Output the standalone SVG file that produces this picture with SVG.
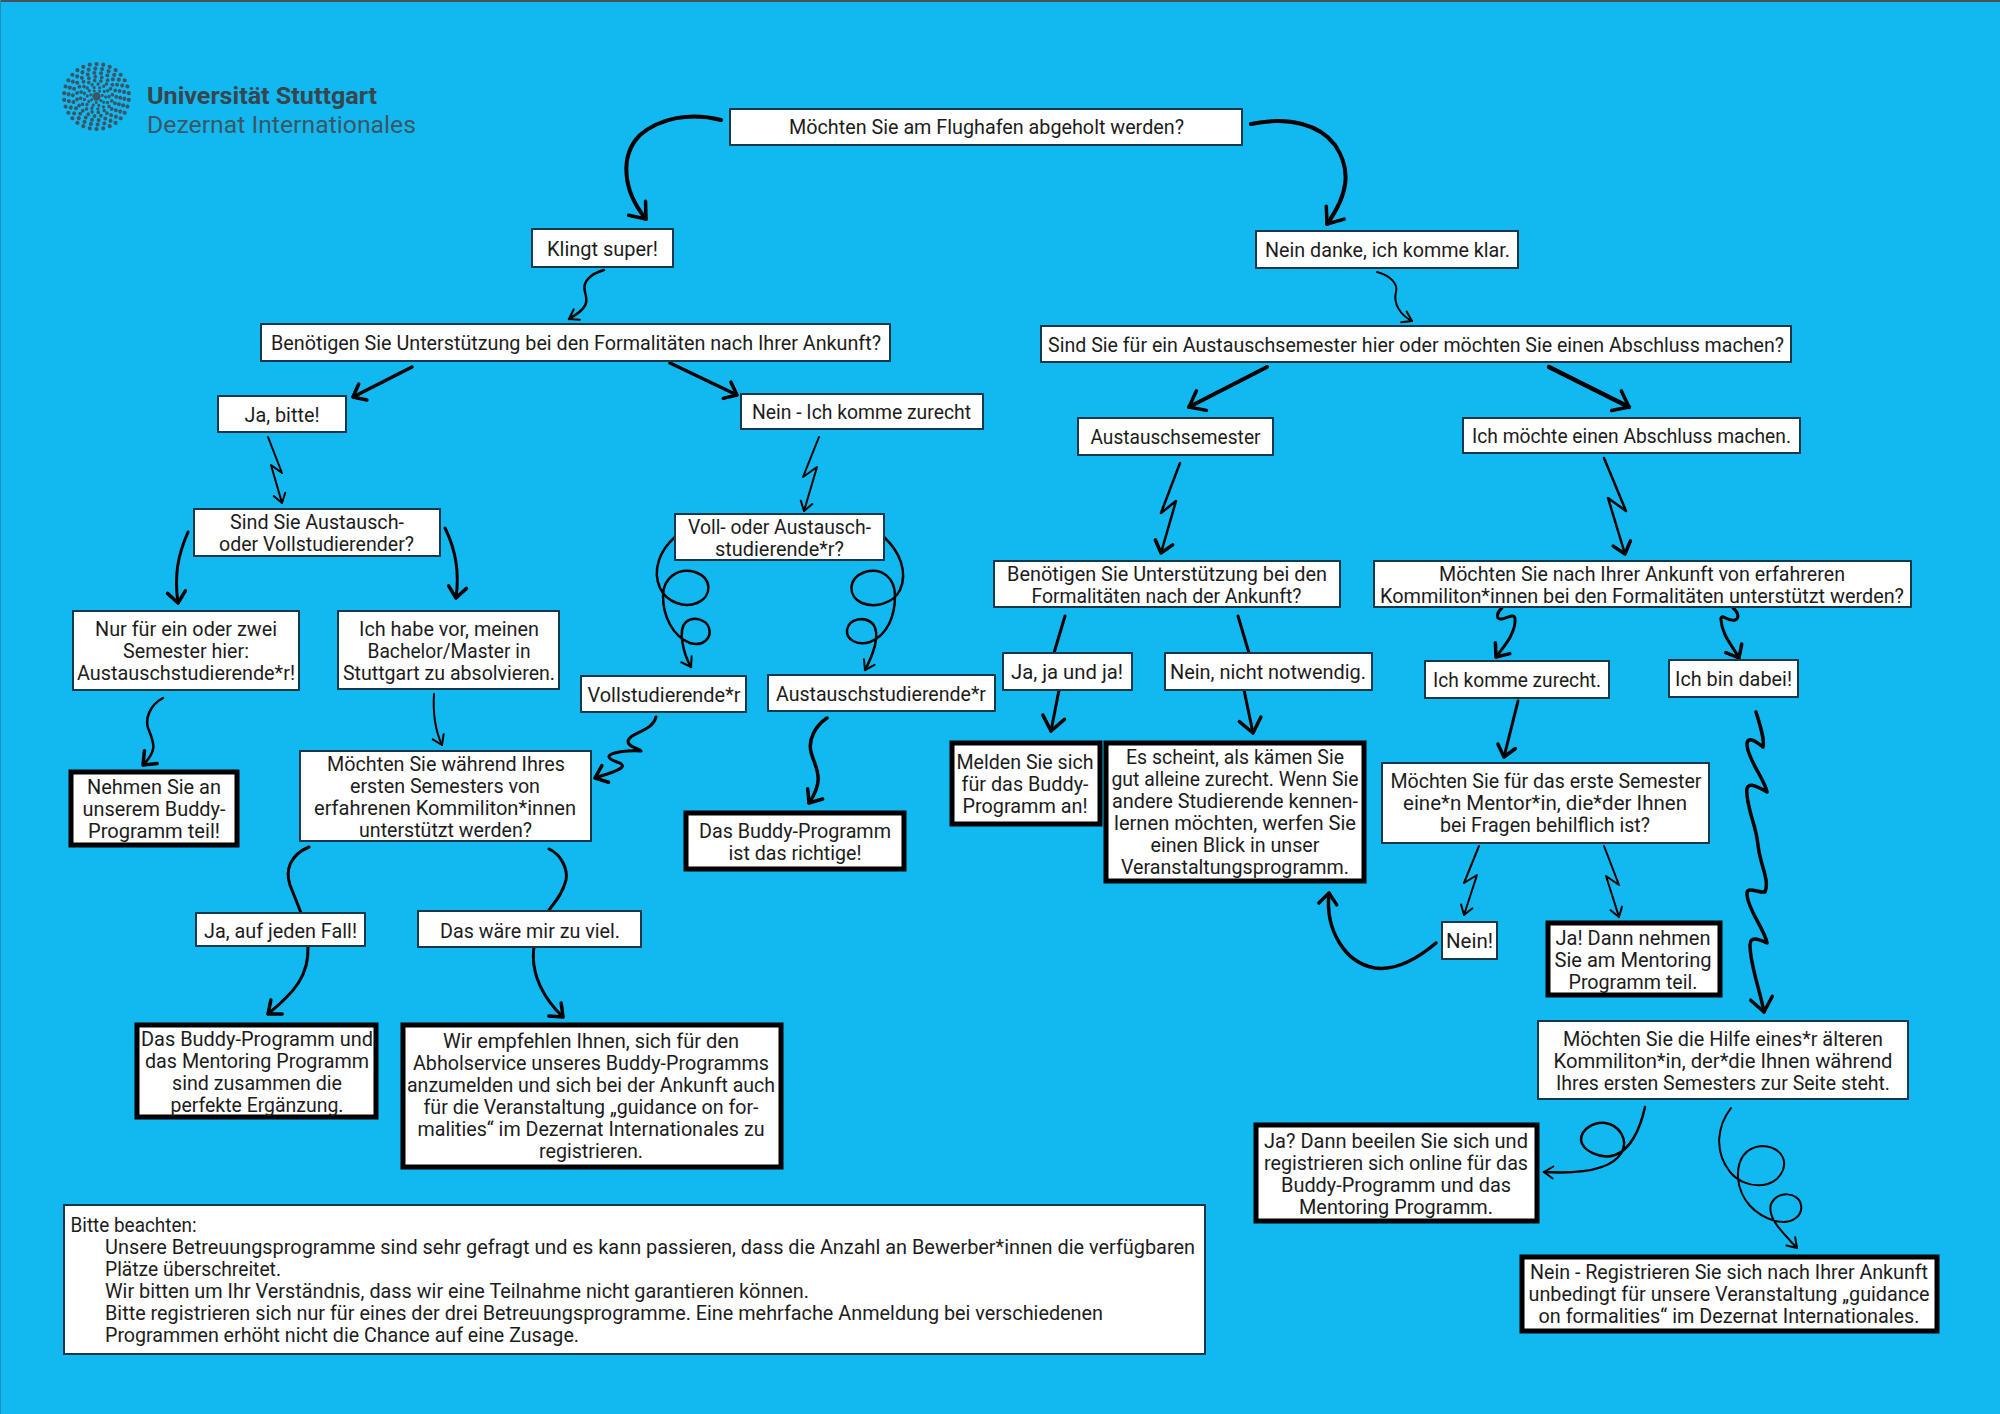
<svg xmlns="http://www.w3.org/2000/svg" width="2000" height="1414" viewBox="0 0 2000 1414">
<style>
text{font-family:Roboto,"Liberation Sans",sans-serif;font-size:21px;fill:#1c1c1c}
.b text,.k text{transform:translateY(1px)}
.c{text-anchor:middle}
.b rect{fill:#fff;stroke:#17384a;stroke-width:2}
.k rect{fill:#fff;stroke:#000;stroke-width:5}
.l{fill:none;stroke:#000;stroke-linecap:round;stroke-linejoin:round}
.w2{stroke-width:2}.w25{stroke-width:2.5}.w3{stroke-width:3}.w35{stroke-width:3.5}.w4{stroke-width:4}.w45{stroke-width:4.5}
.s{marker-end:url(#as)}.m{marker-end:url(#am)}.h{marker-end:url(#al)}
.ring{fill:none;stroke:#3c5666;stroke-linecap:round}
</style>
<defs>
<marker id="as" markerUnits="userSpaceOnUse" markerWidth="30" markerHeight="30" refX="15" refY="15" orient="auto" viewBox="0 0 30 30"><path d="M6,9 L15,15 L6,21" fill="none" stroke="#000" stroke-width="2" stroke-linecap="round" stroke-linejoin="round"/></marker>
<marker id="am" markerUnits="userSpaceOnUse" markerWidth="40" markerHeight="40" refX="20" refY="20" orient="auto" viewBox="0 0 40 40"><path d="M9,11 L20,20 L9,29" fill="none" stroke="#000" stroke-width="3.5" stroke-linecap="round" stroke-linejoin="round"/></marker>
<marker id="al" markerUnits="userSpaceOnUse" markerWidth="50" markerHeight="50" refX="25" refY="25" orient="auto" viewBox="0 0 50 50"><path d="M11,14 L25,25 L11,36" fill="none" stroke="#000" stroke-width="3.5" stroke-linecap="round" stroke-linejoin="round"/></marker>
</defs>
<rect width="2000" height="1414" fill="#12b9f0"/>
<path d="M0,1H2000" stroke="#44525c" stroke-width="2"/>
<path d="M0.5,0V1414" stroke="#1a8fb8" stroke-width="1"/>

<g id="logo">
<g transform="translate(96.5,96.5)">
<circle class="ring" r="32.5" pathLength="30" stroke-dasharray="0 1" stroke-width="4.2" transform="rotate(6)"/>
<circle class="ring" r="28" pathLength="26" stroke-dasharray="0 1" stroke-width="4.1" transform="rotate(143)"/>
<circle class="ring" r="23.7" pathLength="22" stroke-dasharray="0 1" stroke-width="4" transform="rotate(281)"/>
<circle class="ring" r="19.7" pathLength="19" stroke-dasharray="0 1" stroke-width="3.8" transform="rotate(58)"/>
<circle class="ring" r="16" pathLength="16" stroke-dasharray="0 1" stroke-width="3.6" transform="rotate(196)"/>
<circle class="ring" r="12.5" pathLength="13" stroke-dasharray="0 1" stroke-width="3.4" transform="rotate(333)"/>
<circle class="ring" r="9.2" pathLength="10" stroke-dasharray="0 1" stroke-width="3.2" transform="rotate(111)"/>
<circle class="ring" r="6" pathLength="7" stroke-dasharray="0 1" stroke-width="3" transform="rotate(248)"/>
<circle r="4.2" fill="#3c5666"/>
</g>
<text x="147" y="104" textLength="230" lengthAdjust="spacingAndGlyphs" style="font-size:24px;font-weight:700;fill:#37454f">Universität Stuttgart</text>
<text x="147" y="133" textLength="269" lengthAdjust="spacingAndGlyphs" style="font-size:24px;fill:#3c5666">Dezernat Internationales</text>
</g>

<g id="connectors">
<path class="l w4 h" d="M721,120 C690,112 660,118 640,135 C620,155 622,190 646,219"/>
<path class="l w4 h" d="M1251,124 C1290,116 1320,125 1335,145 C1352,170 1348,195 1327,224"/>
<path class="l w25 s" d="M604,270 C590,274 582,282 585,292 C588,302 588,308 569,319"/>
<path class="l w2 s" d="M1377,272 C1392,276 1398,285 1396,292 C1393,303 1400,315 1412,321"/>
<path class="l w35 m" d="M412,367 L353,397"/>
<path class="l w35 m" d="M670,363 L737,395"/>
<path class="l w4 h" d="M1267,367 L1189,407"/>
<path class="l w45 h" d="M1549,367 L1629,407"/>
<path class="l w2 s" d="M268,437 L282,473 L271,465 L282,503"/>
<path class="l w2 s" d="M819,437 L803,477 L817,467 L804,511"/>
<path class="l w25 m" d="M1180,463 L1161,513 L1176,501 L1161,553"/>
<path class="l w25 m" d="M1604,458 L1626,511 L1608,498 L1625,554"/>
<path class="l w3 m" d="M188,532 C178,555 174,575 178,603"/>
<path class="l w3 m" d="M445,528 C455,548 460,570 456,598"/>
<path class="l w25 m" d="M163,698 C150,705 145,718 148,728 C154,743 158,750 143,765"/>
<path class="l w2 s" d="M434,694 C433,710 435,730 442,745"/>
<path class="l w3 m" d="M656,717 C652,732 630,732 628,741 C628,748 640,748 641,751 C630,750 608,752 609,757 C610,762 625,762 622,767 C618,772 605,774 595,778"/>
<path class="l w3" d="M309,847 C290,855 285,870 290,885 C294,895 298,905 301,913"/>
<path class="l w3" d="M549,849 C562,855 568,870 566,880 C563,893 555,902 549,910"/>
<path class="l w3 m" d="M308,947 C309,975 295,992 268,1014"/>
<path class="l w3 m" d="M534,947 C530,975 545,1000 563,1017"/>
<path class="l w25 s" d="M675,537 C660,550 652,570 660,588 C667,603 685,608 697,603 C713,596 712,578 695,572 C678,567 663,578 663,596 C663,615 672,636 690,643 C703,647 712,638 709,628 C706,619 693,616 686,622 C677,630 684,655 691,667"/>
<path class="l w25 s" d="M884,537 C900,552 908,572 900,590 C893,604 875,608 862,603 C847,596 848,578 865,572 C882,567 895,578 895,596 C895,615 888,635 870,642 C858,646 846,640 847,630 C849,618 865,616 873,624 C881,634 873,655 865,670"/>
<path class="l w35 m" d="M827,718 C815,726 808,740 811,752 C815,768 826,778 809,803"/>
<path class="l w3" d="M1065,616 L1054,653"/>
<path class="l w3" d="M1238,616 L1249,653"/>
<path class="l w3 h" d="M1059,690 L1051,731"/>
<path class="l w3 h" d="M1244,690 L1253,733"/>
<path class="l w35 m" d="M1436,943 C1410,965 1390,970 1375,968 C1345,963 1325,930 1329,893"/>
<path class="l w3 m" d="M1502,608 C1497,612 1495,620 1502,619 C1510,617 1516,612 1515,622 C1514,635 1505,645 1496,657"/>
<path class="l w3 m" d="M1733,608 C1738,612 1740,618 1735,620 C1728,622 1720,612 1721,620 C1722,635 1732,645 1739,658"/>
<path class="l w3 m" d="M1518,701 L1504,757"/>
<path class="l w2 s" d="M1479,846 L1464,883 L1477,875 L1464,915"/>
<path class="l w2 s" d="M1604,846 L1619,885 L1606,876 L1619,917"/>
<path class="l w35 h" d="M1756,712 C1760,725 1765,740 1763,747 C1760,745 1747,733 1747,745 C1748,760 1765,780 1767,792 C1755,785 1745,780 1747,795 C1749,815 1756,825 1758,845 C1760,865 1770,880 1765,892 C1758,893 1746,885 1747,895 C1748,910 1765,930 1767,943 C1760,940 1750,935 1750,945 C1750,965 1760,990 1764,1012"/>
<path class="l w25 s" d="M1645,1107 C1640,1130 1630,1150 1615,1155 C1600,1160 1582,1150 1581,1140 C1581,1128 1595,1122 1605,1123 C1620,1125 1628,1140 1622,1152 C1612,1170 1580,1174 1544,1172"/>
<path class="l w2 s" d="M1731,1108 C1718,1125 1713,1150 1730,1172 C1745,1190 1775,1190 1783,1170 C1788,1155 1775,1146 1762,1146 C1745,1147 1737,1160 1738,1178 C1740,1200 1755,1215 1775,1221 C1793,1225 1803,1215 1801,1205 C1799,1192 1777,1190 1771,1204 C1767,1218 1782,1232 1797,1248"/>
</g>

<g id="n01" class="b"><rect x="730" y="109" width="512" height="36"/><text class="c" x="986.5" y="133" textLength="395" lengthAdjust="spacingAndGlyphs">Möchten Sie am Flughafen abgeholt werden?</text></g>
<g id="n02" class="b"><rect x="532" y="229" width="141" height="38"/><text class="c" x="602.5" y="255" textLength="111" lengthAdjust="spacingAndGlyphs">Klingt super!</text></g>
<g id="n03" class="b"><rect x="1256" y="231" width="262" height="37"/><text class="c" x="1387.5" y="256" textLength="245" lengthAdjust="spacingAndGlyphs">Nein danke, ich komme klar.</text></g>
<g id="n04" class="b"><rect x="261" y="324" width="629" height="37"/><text class="c" x="576" y="349" textLength="610" lengthAdjust="spacingAndGlyphs">Benötigen Sie Unterstützung bei den Formalitäten nach Ihrer Ankunft?</text></g>
<g id="n05" class="b"><rect x="1041" y="326" width="750" height="36"/><text class="c" x="1416" y="351" textLength="736" lengthAdjust="spacingAndGlyphs">Sind Sie für ein Austauschsemester hier oder möchten Sie einen Abschluss machen?</text></g>
<g id="n06" class="b"><rect x="218" y="396" width="128" height="36"/><text class="c" x="282" y="421" textLength="75" lengthAdjust="spacingAndGlyphs">Ja, bitte!</text></g>
<g id="n07" class="b"><rect x="741" y="394" width="242" height="35"/><text class="c" x="861.5" y="418" textLength="219" lengthAdjust="spacingAndGlyphs">Nein - Ich komme zurecht</text></g>
<g id="n08" class="b"><rect x="1078" y="418" width="195" height="37"/><text class="c" x="1175.5" y="443" textLength="170" lengthAdjust="spacingAndGlyphs">Austauschsemester</text></g>
<g id="n09" class="b"><rect x="1463" y="418" width="337" height="35"/><text class="c" x="1631.5" y="442" textLength="319" lengthAdjust="spacingAndGlyphs">Ich möchte einen Abschluss machen.</text></g>
<g id="n10" class="b"><rect x="194" y="509" width="246" height="47"/><text class="c" x="317" y="528" textLength="174" lengthAdjust="spacingAndGlyphs">Sind Sie Austausch-</text><text class="c" x="316.5" y="550" textLength="195" lengthAdjust="spacingAndGlyphs">oder Vollstudierender?</text></g>
<g id="n11" class="b"><rect x="675" y="514" width="209" height="46"/><text class="c" x="779.5" y="533" textLength="183" lengthAdjust="spacingAndGlyphs">Voll- oder Austausch-</text><text class="c" x="779.5" y="555" textLength="129" lengthAdjust="spacingAndGlyphs">studierende*r?</text></g>
<g id="n12" class="b"><rect x="994" y="561" width="346" height="46"/><text class="c" x="1167" y="580" textLength="320" lengthAdjust="spacingAndGlyphs">Benötigen Sie Unterstützung bei den</text><text class="c" x="1166.5" y="602" textLength="270" lengthAdjust="spacingAndGlyphs">Formalitäten nach der Ankunft?</text></g>
<g id="n13" class="b"><rect x="1374" y="561" width="537" height="46"/><text class="c" x="1642" y="580" textLength="406" lengthAdjust="spacingAndGlyphs">Möchten Sie nach Ihrer Ankunft von erfahreren</text><text class="c" x="1642" y="602" textLength="524" lengthAdjust="spacingAndGlyphs">Kommiliton*innen bei den Formalitäten unterstützt werden?</text></g>
<g id="n14" class="b"><rect x="73" y="611" width="226" height="79"/><text class="c" x="186" y="635" textLength="182" lengthAdjust="spacingAndGlyphs">Nur für ein oder zwei</text><text class="c" x="186" y="657" textLength="126" lengthAdjust="spacingAndGlyphs">Semester hier:</text><text class="c" x="186" y="679" textLength="218" lengthAdjust="spacingAndGlyphs">Austauschstudierende*r!</text></g>
<g id="n15" class="b"><rect x="338" y="611" width="221" height="78"/><text class="c" x="449" y="635" textLength="180" lengthAdjust="spacingAndGlyphs">Ich habe vor, meinen</text><text class="c" x="449" y="657" textLength="163" lengthAdjust="spacingAndGlyphs">Bachelor/Master in</text><text class="c" x="449" y="679" textLength="212" lengthAdjust="spacingAndGlyphs">Stuttgart zu absolvieren.</text></g>
<g id="n16" class="b"><rect x="581" y="676" width="165" height="36"/><text class="c" x="664" y="701" textLength="153" lengthAdjust="spacingAndGlyphs">Vollstudierende*r</text></g>
<g id="n17" class="b"><rect x="768" y="675" width="227" height="36"/><text class="c" x="881" y="700" textLength="210" lengthAdjust="spacingAndGlyphs">Austauschstudierende*r</text></g>
<g id="n18" class="b"><rect x="1003" y="653" width="129" height="37"/><text class="c" x="1067" y="678" textLength="112" lengthAdjust="spacingAndGlyphs">Ja, ja und ja!</text></g>
<g id="n19" class="b"><rect x="1165" y="653" width="207" height="37"/><text class="c" x="1268" y="678" textLength="196" lengthAdjust="spacingAndGlyphs">Nein, nicht notwendig.</text></g>
<g id="n20" class="b"><rect x="1425" y="661" width="184" height="37"/><text class="c" x="1517" y="686" textLength="168" lengthAdjust="spacingAndGlyphs">Ich komme zurecht.</text></g>
<g id="n21" class="b"><rect x="1669" y="660" width="129" height="37"/><text class="c" x="1733.5" y="685" textLength="117" lengthAdjust="spacingAndGlyphs">Ich bin dabei!</text></g>
<g id="n22" class="b"><rect x="1382" y="763" width="327" height="80"/><text class="c" x="1546" y="787" textLength="311" lengthAdjust="spacingAndGlyphs">Möchten Sie für das erste Semester</text><text class="c" x="1545" y="809" textLength="284" lengthAdjust="spacingAndGlyphs">eine*n Mentor*in, die*der Ihnen</text><text class="c" x="1545" y="831" textLength="210" lengthAdjust="spacingAndGlyphs">bei Fragen behilflich ist?</text></g>
<g id="n23" class="b"><rect x="300" y="751" width="291" height="90"/><text class="c" x="446" y="770" textLength="238" lengthAdjust="spacingAndGlyphs">Möchten Sie während Ihres</text><text class="c" x="445" y="792" textLength="190" lengthAdjust="spacingAndGlyphs">ersten Semesters von</text><text class="c" x="445" y="814" textLength="262" lengthAdjust="spacingAndGlyphs">erfahrenen Kommiliton*innen</text><text class="c" x="445.5" y="836" textLength="173" lengthAdjust="spacingAndGlyphs">unterstützt werden?</text></g>
<g id="n24" class="k"><rect x="71" y="772" width="166" height="73"/><text class="c" x="154" y="793" textLength="134" lengthAdjust="spacingAndGlyphs">Nehmen Sie an</text><text class="c" x="154" y="815" textLength="143" lengthAdjust="spacingAndGlyphs">unserem Buddy-</text><text class="c" x="154" y="837" textLength="132" lengthAdjust="spacingAndGlyphs">Programm teil!</text></g>
<g id="n25" class="k"><rect x="686" y="813" width="218" height="56"/><text class="c" x="795" y="837" textLength="192" lengthAdjust="spacingAndGlyphs">Das Buddy-Programm</text><text class="c" x="795" y="859" textLength="133" lengthAdjust="spacingAndGlyphs">ist das richtige!</text></g>
<g id="n26" class="k"><rect x="952" y="743" width="148" height="81"/><text class="c" x="1025" y="768" textLength="137" lengthAdjust="spacingAndGlyphs">Melden Sie sich</text><text class="c" x="1025" y="790" textLength="127" lengthAdjust="spacingAndGlyphs">für das Buddy-</text><text class="c" x="1025" y="812" textLength="125" lengthAdjust="spacingAndGlyphs">Programm an!</text></g>
<g id="n27" class="k"><rect x="1106" y="743" width="258" height="138"/><text class="c" x="1235" y="763" textLength="218" lengthAdjust="spacingAndGlyphs">Es scheint, als kämen Sie</text><text class="c" x="1235" y="785" textLength="247" lengthAdjust="spacingAndGlyphs">gut alleine zurecht. Wenn Sie</text><text class="c" x="1235" y="807" textLength="246" lengthAdjust="spacingAndGlyphs">andere Studierende kennen-</text><text class="c" x="1235" y="829" textLength="242" lengthAdjust="spacingAndGlyphs">lernen möchten, werfen Sie</text><text class="c" x="1235" y="851" textLength="169" lengthAdjust="spacingAndGlyphs">einen Blick in unser</text><text class="c" x="1235" y="873" textLength="228" lengthAdjust="spacingAndGlyphs">Veranstaltungsprogramm.</text></g>
<g id="n28" class="b"><rect x="1442" y="922" width="55" height="37"/><text class="c" x="1469.5" y="947" textLength="47" lengthAdjust="spacingAndGlyphs">Nein!</text></g>
<g id="n29" class="k"><rect x="1548" y="923" width="172" height="72"/><text class="c" x="1633" y="944" textLength="155" lengthAdjust="spacingAndGlyphs">Ja! Dann nehmen</text><text class="c" x="1633" y="966" textLength="157" lengthAdjust="spacingAndGlyphs">Sie am Mentoring</text><text class="c" x="1633" y="988" textLength="129" lengthAdjust="spacingAndGlyphs">Programm teil.</text></g>
<g id="n30" class="b"><rect x="196" y="913" width="169" height="33"/><text class="c" x="280.5" y="937" textLength="153" lengthAdjust="spacingAndGlyphs">Ja, auf jeden Fall!</text></g>
<g id="n31" class="b"><rect x="418" y="911" width="223" height="36"/><text class="c" x="530" y="937" textLength="180" lengthAdjust="spacingAndGlyphs">Das wäre mir zu viel.</text></g>
<g id="n32" class="k"><rect x="137" y="1025" width="239" height="92"/><text class="c" x="257" y="1045" textLength="232" lengthAdjust="spacingAndGlyphs">Das Buddy-Programm und</text><text class="c" x="257" y="1067" textLength="224" lengthAdjust="spacingAndGlyphs">das Mentoring Programm</text><text class="c" x="257" y="1089" textLength="170" lengthAdjust="spacingAndGlyphs">sind zusammen die</text><text class="c" x="257" y="1111" textLength="173" lengthAdjust="spacingAndGlyphs">perfekte Ergänzung.</text></g>
<g id="n33" class="k"><rect x="403" y="1025" width="378" height="142"/><text class="c" x="591" y="1047" textLength="296" lengthAdjust="spacingAndGlyphs">Wir empfehlen Ihnen, sich für den</text><text class="c" x="591" y="1069" textLength="356" lengthAdjust="spacingAndGlyphs">Abholservice unseres Buddy-Programms</text><text class="c" x="591" y="1091" textLength="368" lengthAdjust="spacingAndGlyphs">anzumelden und sich bei der Ankunft auch</text><text class="c" x="591" y="1113" textLength="335" lengthAdjust="spacingAndGlyphs">für die Veranstaltung „guidance on for-</text><text class="c" x="591" y="1135" textLength="347" lengthAdjust="spacingAndGlyphs">malities“ im Dezernat Internationales zu</text><text class="c" x="591" y="1157" textLength="104" lengthAdjust="spacingAndGlyphs">registrieren.</text></g>
<g id="n34" class="b"><rect x="1538" y="1021" width="370" height="78"/><text class="c" x="1723" y="1045" textLength="320" lengthAdjust="spacingAndGlyphs">Möchten Sie die Hilfe eines*r älteren</text><text class="c" x="1723" y="1067" textLength="339" lengthAdjust="spacingAndGlyphs">Kommiliton*in, der*die Ihnen während</text><text class="c" x="1723" y="1089" textLength="334" lengthAdjust="spacingAndGlyphs">Ihres ersten Semesters zur Seite steht.</text></g>
<g id="n35" class="k"><rect x="1256" y="1125" width="281" height="96"/><text class="c" x="1396" y="1147" textLength="264" lengthAdjust="spacingAndGlyphs">Ja? Dann beeilen Sie sich und</text><text class="c" x="1396" y="1169" textLength="264" lengthAdjust="spacingAndGlyphs">registrieren sich online für das</text><text class="c" x="1396" y="1191" textLength="230" lengthAdjust="spacingAndGlyphs">Buddy-Programm und das</text><text class="c" x="1396" y="1213" textLength="194" lengthAdjust="spacingAndGlyphs">Mentoring Programm.</text></g>
<g id="n36" class="k"><rect x="1522" y="1257" width="415" height="74"/><text class="c" x="1729" y="1278" textLength="398" lengthAdjust="spacingAndGlyphs">Nein - Registrieren Sie sich nach Ihrer Ankunft</text><text class="c" x="1729" y="1300" textLength="401" lengthAdjust="spacingAndGlyphs">unbedingt für unsere Veranstaltung „guidance</text><text class="c" x="1729" y="1322" textLength="381" lengthAdjust="spacingAndGlyphs">on formalities“ im Dezernat Internationales.</text></g>
<g id="note" class="b"><rect x="64" y="1205" width="1141" height="149"/>
<text x="70.5" y="1231" textLength="126" lengthAdjust="spacingAndGlyphs">Bitte beachten:</text>
<text x="105" y="1253" textLength="1090" lengthAdjust="spacingAndGlyphs">Unsere Betreuungsprogramme sind sehr gefragt und es kann passieren, dass die Anzahl an Bewerber*innen die verfügbaren</text>
<text x="105" y="1275" textLength="176" lengthAdjust="spacingAndGlyphs">Plätze überschreitet.</text>
<text x="105" y="1297" textLength="704" lengthAdjust="spacingAndGlyphs">Wir bitten um Ihr Verständnis, dass wir eine Teilnahme nicht garantieren können.</text>
<text x="105" y="1319" textLength="998" lengthAdjust="spacingAndGlyphs">Bitte registrieren sich nur für eines der drei Betreuungsprogramme. Eine mehrfache Anmeldung bei verschiedenen</text>
<text x="105" y="1341" textLength="474" lengthAdjust="spacingAndGlyphs">Programmen erhöht nicht die Chance auf eine Zusage.</text>
</g>
</svg>
